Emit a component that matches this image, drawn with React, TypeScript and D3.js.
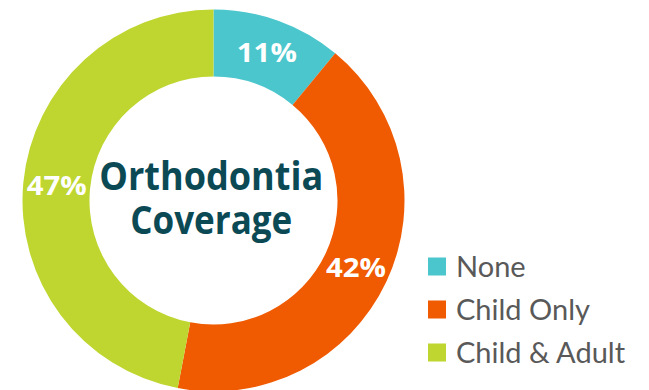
import React from "react";
import * as d3 from "d3";

const categories = ["None", "Child Only", "Child & Adult"];
const values = [11, 42, 47];
const colors = ["#4BC6CC", "#F05A00", "#BED62F"];
const titleLines = ["Orthodontia", "Coverage"];

const W = 649;
const H = 390;

export default function App() {
  const cx = 213.5;
  const cy = 200.5;
  const outerR = 191;
  const innerR = 124;
  const pie = d3
    .pie<number>()
    .sort(null)
    .value((d) => d)
    .startAngle(0)
    .endAngle(2 * Math.PI);
  const arcs = pie(values);
  const arc = d3.arc<d3.PieArcDatum<number>>().innerRadius(innerR).outerRadius(outerR);
  const total = d3.sum(values);
  const legendY = d3.scaleBand<string>().domain(categories).range([245, 374]);
  const boldFont = "'Open Sans', Lato, sans-serif";
  const titleWidths = [224, 162];

  return (
    <svg
      width={W}
      height={H}
      style={{ position: "absolute", left: 0, top: 0, background: "#fff" }}
      fontFamily="Lato, 'Noto Sans', sans-serif"
    >
      <g transform={`translate(${cx},${cy})`}>
        {arcs.map((a, i) => (
          <path key={i} d={arc(a) || ""} fill={colors[i]} />
        ))}
        {arcs.map((a, i) => {
          const [x, y] = arc.centroid(a);
          return (
            <text
              key={"l" + i}
              x={x}
              y={y}
              dy="0.36em"
              textAnchor="middle"
              fill="#fff"
              fontWeight={700}
              fontSize={27}
              fontFamily={boldFont}
              textLength={60}
              lengthAdjust="spacingAndGlyphs"
            >
              {`${Math.round((a.data / total) * 100)}%`}
            </text>
          );
        })}
        <text
          textAnchor="middle"
          fill="#0B4A55"
          fontWeight={700}
          fontSize={39.5}
          fontFamily={boldFont}
        >
          {titleLines.map((t, i) => (
            <tspan
              key={t}
              x={-2.25}
              y={-10.5 + i * 44}
              textLength={titleWidths[i]}
              lengthAdjust="spacingAndGlyphs"
            >
              {t}
            </tspan>
          ))}
        </text>
      </g>
      <g>
        {categories.map((c, i) => {
          const y0 = legendY(c)! + legendY.bandwidth() / 2;
          return (
            <g key={c}>
              <rect x={428} y={y0 - 9} width={18} height={18} fill={colors[i]} />
              <text x={456} y={y0 + 10.5} fill="#595959" fontSize={29}>
                {c}
              </text>
            </g>
          );
        })}
      </g>
    </svg>
  );
}
